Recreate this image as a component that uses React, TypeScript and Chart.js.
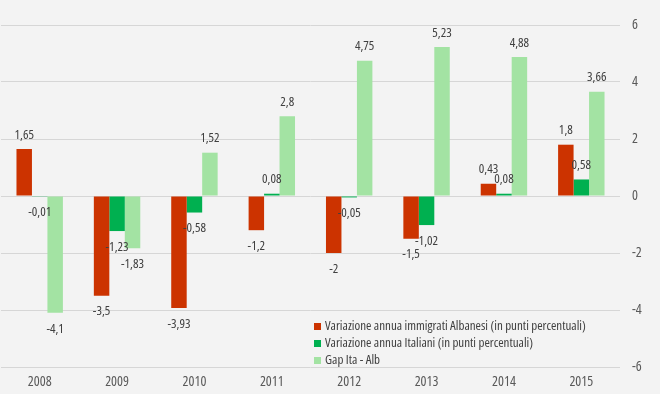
import React, { useEffect, useRef } from "react";
import { Chart, registerables } from "chart.js";

Chart.register(...registerables);

const categories = ["2008", "2009", "2010", "2011", "2012", "2013", "2014", "2015"];
const albanesi = [1.65, -3.5, -3.93, -1.2, -2, -1.5, 0.43, 1.8];
const italiani = [-0.01, -1.23, -0.58, 0.08, -0.05, -1.02, 0.08, 0.58];
const gapItaAlb = [-4.1, -1.83, 1.52, 2.8, 4.75, 5.23, 4.88, 3.66];
const seriesNames = [
  "Variazione annua immigrati Albanesi (in punti percentuali)",
  "Variazione annua Italiani (in punti percentuali)",
  "Gap Ita - Alb",
];
const seriesColors = ["#cc3300", "#00b050", "#a3e3a3"];
const yMin = -6;
const yMax = 6;
const yStep = 2;

const FAMILY = '"Open Sans", "Roboto", sans-serif';
const CTX_FONT = `condensed 13px ${FAMILY}`;
const tickFont = { family: FAMILY, size: 14, weight: "condensed" as any };
const fmt = (v: number) => String(v).replace(".", ",");

const valueLabels = {
  id: "valueLabels",
  afterDatasetsDraw(chart: any) {
    const ctx = chart.ctx;
    ctx.save();
    ctx.font = CTX_FONT;
    ctx.fillStyle = "#404040";
    ctx.textAlign = "center";
    ctx.textBaseline = "middle";
    chart.data.datasets.forEach((ds: any, i: number) => {
      const meta = chart.getDatasetMeta(i);
      meta.data.forEach((bar: any, j: number) => {
        const v = ds.data[j] as number;
        const { x, y } = bar.getProps(["x", "y"], true);
        ctx.fillText(fmt(v), x, v >= 0 ? y - 14 : y + 16);
      });
    });
    ctx.restore();
  },
};

const innerLegend = {
  id: "innerLegend",
  afterDraw(chart: any) {
    const ctx = chart.ctx;
    const area = chart.chartArea;
    ctx.save();
    ctx.font = CTX_FONT;
    ctx.textBaseline = "middle";
    ctx.textAlign = "left";
    const x0 = area.left + 313;
    chart.data.datasets.forEach((ds: any, i: number) => {
      const cy = area.bottom - 41 + i * 17;
      ctx.fillStyle = ds.backgroundColor;
      ctx.fillRect(x0, cy - 3, 7, 7);
      ctx.fillStyle = "#404040";
      ctx.fillText(ds.label, x0 + 11, cy);
    });
    ctx.restore();
  },
};

export default function App() {
  const ref = useRef<HTMLCanvasElement | null>(null);
  useEffect(() => {
    if (!ref.current) return;
    const chart = new Chart(ref.current, {
      type: "bar",
      data: {
        labels: categories,
        datasets: [albanesi, italiani, gapItaAlb].map((d, i) => ({
          label: seriesNames[i],
          data: d,
          backgroundColor: seriesColors[i],
          borderWidth: 0,
          categoryPercentage: 0.6,
          barPercentage: 1,
        })),
      },
      options: {
        animation: false,
        responsive: false,
        layout: { padding: { top: 25, left: 1, right: 0, bottom: 0 } },
        plugins: { legend: { display: false }, tooltip: { enabled: false } },
        scales: {
          x: {
            grid: { display: false, drawTicks: false },
            border: { display: false },
            ticks: { color: "#595959", font: tickFont, padding: 7 },
            afterFit: (s: any) => {
              s.height = 27;
            },
          },
          y: {
            position: "right",
            min: yMin,
            max: yMax,
            grid: { color: "#d6d6d6", drawTicks: false, lineWidth: 1 },
            border: { display: false },
            ticks: {
              stepSize: yStep,
              color: "#595959",
              font: tickFont,
              padding: 12,
              callback: (v: any) => fmt(Number(v)),
            },
            afterFit: (s: any) => {
              s.width = 40;
            },
          },
        },
      },
      plugins: [valueLabels, innerLegend],
    });
    return () => chart.destroy();
  }, []);
  return (
    <div style={{ position: "fixed", left: 0, top: 0, width: 660, height: 394, background: "#f3f3f3" }}>
      <canvas ref={ref} width={660} height={394} style={{ display: "block" }} />
    </div>
  );
}
